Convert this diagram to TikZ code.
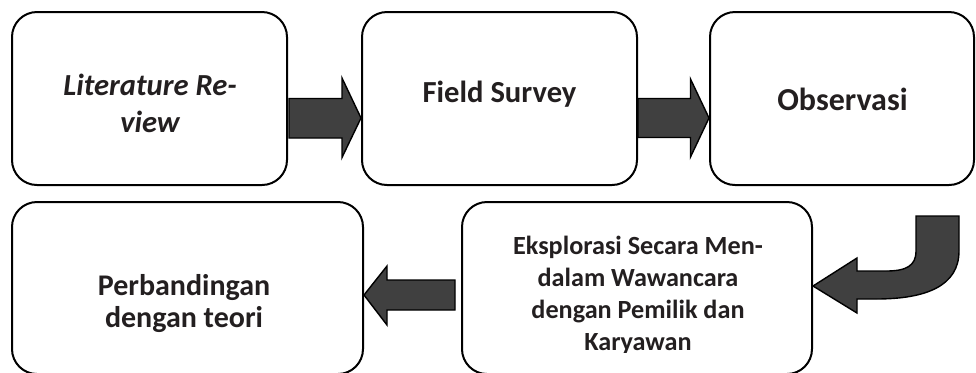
\documentclass[tikz,border=0pt]{standalone}
\usepackage{fontspec}
\setmainfont{Carlito}
\usetikzlibrary{calc}
\definecolor{txt}{HTML}{231F20}
\definecolor{arrowfill}{HTML}{404040}
\tikzset{
  box/.style={draw=black, line width=1pt, rounded corners=12.5pt, fill=white, inner sep=0pt},
  lbl/.style={text=txt, font=\fontsize{15.3pt}{18.5pt}\selectfont\bfseries, align=center, inner sep=0pt, anchor=base},
  smalllbl/.style={text=txt, font=\fontsize{13.1pt}{16pt}\selectfont\bfseries, align=center, inner sep=0pt, anchor=base},
  blockarrow/.style={fill=arrowfill, draw=black, line width=0.7pt, line join=miter}
}
\begin{document}
\begin{tikzpicture}[x=0.5pt, y=-0.5pt]
\useasboundingbox (0,0) rectangle (976,372);
% boxes
\node[box, minimum width=137.5pt, minimum height=86.5pt] (A) at (149.5,98.5) {};
\node[box, minimum width=137.5pt, minimum height=86.5pt] (B) at (499.5,98.5) {};
\node[box, minimum width=132pt, minimum height=86.5pt] (C) at (842,98.5) {};
\node[box, minimum width=175.5pt, minimum height=86pt] (D) at (187.5,288) {};
\node[box, minimum width=175pt, minimum height=86pt] (E) at (637,288) {};
% labels
\node[lbl, font=\fontsize{15.3pt}{18.5pt}\selectfont\bfseries\itshape] (tA) at (150,132) {Literature Re-\\view};
\node[lbl] (tB) at (499.5,102) {Field Survey};
\node[lbl, font=\fontsize{16pt}{19pt}\selectfont\bfseries] (tC) at (842.5,110) {Observasi};
\node[lbl, font=\fontsize{15pt}{16pt}\selectfont\bfseries] (tD) at (184,327) {Perbandingan\\dengan teori};
\begin{scope}
\clip (450,190) rectangle (820,352.5);
\node[smalllbl] (tE) at (638,350) {Eksplorasi Secara Men-\\dalam Wawancara\\dengan Pemilik dan\\Karyawan};
\end{scope}
% block arrows
\draw[blockarrow] ($(A.east)+(1,0)$) -- ($(B.west)+(-19,0)$) -- ($(B.west)+(-19,-20.5)$)
  -- ($(B.west)+(0,19.5)$) -- ($(B.west)+(-19,59)$) -- ($(B.west)+(-19,39.5)$)
  -- ($(A.east)+(1,39.5)$) -- cycle;
\draw[blockarrow] ($(B.east)+(0,0)$) -- ($(C.west)+(-18.5,0)$) -- ($(C.west)+(-18.5,-19.5)$)
  -- ($(C.west)+(0,19.5)$) -- ($(C.west)+(-18.5,58.5)$) -- ($(C.west)+(-18.5,39)$)
  -- ($(B.east)+(0,39)$) -- cycle;
\draw[blockarrow] ($(E.west)+(-6,-8)$) -- ($(D.east)+(23,-8)$) -- ($(D.east)+(23,-22)$)
  -- ($(D.east)+(0,7)$) -- ($(D.east)+(23,37)$) -- ($(D.east)+(23,22)$)
  -- ($(E.west)+(-6,22)$) -- cycle;
\draw[blockarrow] ($(E.east)+(103,-72)$) -- ($(E.east)+(146,-72)$) -- ($(E.east)+(146,-37)$)
  .. controls ($(E.east)+(146,-2)$) and ($(E.east)+(113,11)$) .. ($(E.east)+(63,11)$)
  -- ($(E.east)+(44,11)$) -- ($(E.east)+(44,25)$) -- ($(E.east)+(0,-2)$)
  -- ($(E.east)+(44,-30)$) -- ($(E.east)+(44,-17)$) -- ($(E.east)+(73,-17)$)
  .. controls ($(E.east)+(93,-17)$) and ($(E.east)+(103,-22)$) .. ($(E.east)+(103,-37)$)
  -- cycle;
\end{tikzpicture}
\end{document}
